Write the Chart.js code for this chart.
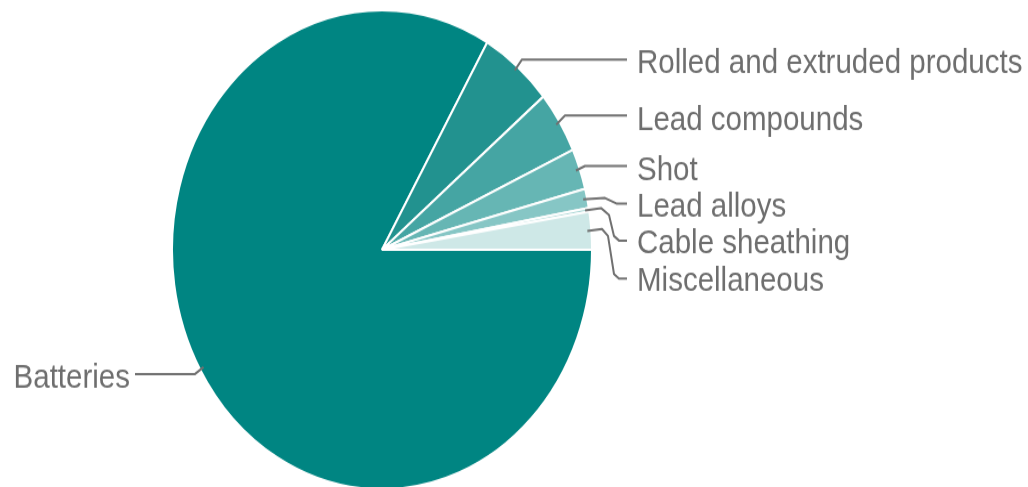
<!DOCTYPE html>
<html>
<head>
<meta charset="utf-8">
<script src="https://cdn.jsdelivr.net/npm/chart.js@4.4.1/dist/chart.umd.min.js"></script>
<style>
  html, body { margin: 0; padding: 0; background: #ffffff; width: 1028px; height: 487px; }
  #frame { width: 1028px; height: 487px; overflow: visible; position: relative; }
  /* the whole figure is drawn 427px tall and stretched vertically to 487px */
  #wrap { position: absolute; left: 0; top: 0; width: 1028px; height: 427px; transform: scaleY(1.14052); transform-origin: 0 0; }
  canvas { display: block; }
</style>
</head>
<body>
<div id="frame"><div id="wrap"><canvas id="c" width="1028" height="427"></canvas></div></div>
<script>
// End uses of lead, share of consumption (%)
const categories = [
  'Batteries',
  'Rolled and extruded products',
  'Lead compounds',
  'Shot',
  'Lead alloys',
  'Cable sheathing',
  'Miscellaneous'
];
const shares = [83.35, 5.6, 4.2, 2.75, 1.3, 0.25, 2.55];
const sliceColors = ['#008582', '#22928f', '#45a5a3', '#66b6b4', '#86c6c5', '#a9d6d5', '#cee8e7'];

// leader-line bend points and label anchors, one entry per category
const labelLayout = [
  { path: [[195, 327.9], [135, 327.9]],                                   tx: 130, ty: 340.2, align: 'right' },
  { path: [[522, 52.2], [627, 52.2]],                                     tx: 637, ty: 64.3,  align: 'left' },
  { path: [[565, 101.3], [627, 101.3]],                                   tx: 637, ty: 114.0, align: 'left' },
  { path: [[585, 145.5], [627, 145.5]],                                   tx: 637, ty: 157.8, align: 'left' },
  { path: [[605, 173.6], [617, 178.6], [627, 178.6]],                     tx: 637, ty: 190.3, align: 'left' },
  { path: [[601, 182.4], [609, 188.5], [614, 206.9], [619, 210.9], [627, 210.9]], tx: 637, ty: 221.8, align: 'left' },
  { path: [[602, 200.8], [608, 206.9], [614, 240.2], [619, 244.3], [627, 244.3]], tx: 637, ty: 255.2, align: 'left' }
];

const leaderPlugin = {
  id: 'leaders',
  afterDatasetsDraw(chart) {
    const ctx = chart.ctx;
    const arcs = chart.getDatasetMeta(0).data;
    ctx.save();
    ctx.strokeStyle = '#707070';
    ctx.lineWidth = 2;
    ctx.lineJoin = 'round';
    ctx.lineCap = 'butt';
    ctx.fillStyle = '#6e6e6e';
    ctx.font = '29.5px "Liberation Sans", Arial, sans-serif';
    ctx.textBaseline = 'alphabetic';
    arcs.forEach((arc, i) => {
      const p = arc.getProps(['x', 'y', 'startAngle', 'endAngle', 'outerRadius'], true);
      const mid = (p.startAngle + p.endAngle) / 2;
      const r = p.outerRadius - 4;
      const sx = p.x + Math.cos(mid) * r;
      const sy = p.y + Math.sin(mid) * r;
      const g = labelLayout[i];
      ctx.beginPath();
      ctx.moveTo(sx, sy);
      g.path.forEach(([px, py]) => ctx.lineTo(px, py));
      ctx.stroke();
      ctx.textAlign = g.align;
      ctx.fillText(categories[i], g.tx, g.ty);
    });
    ctx.restore();
  }
};

new Chart(document.getElementById('c'), {
  type: 'pie',
  data: {
    labels: categories,
    datasets: [{
      data: shares,
      backgroundColor: sliceColors,
      borderColor: '#ffffff',
      borderWidth: 2
    }]
  },
  options: {
    responsive: false,
    animation: false,
    rotation: 90,
    radius: 210,
    layout: { padding: { left: 0, right: 264, top: 11, bottom: 0 } },
    plugins: {
      legend: { display: false },
      tooltip: { enabled: false }
    }
  },
  plugins: [leaderPlugin]
});
</script>
</body>
</html>
